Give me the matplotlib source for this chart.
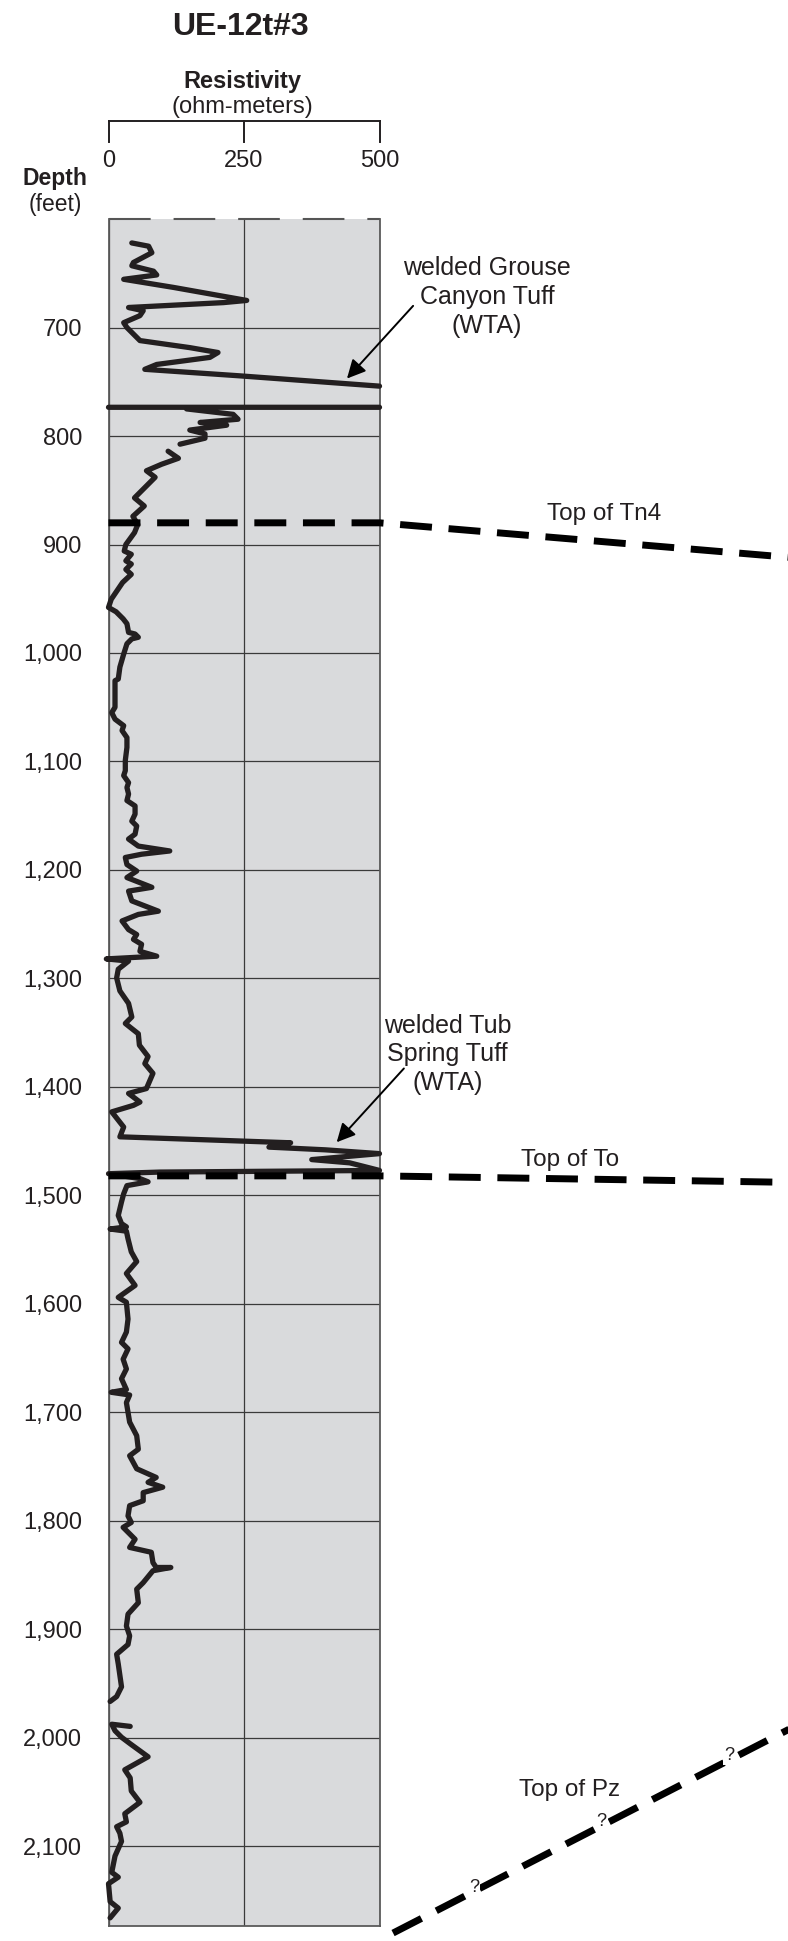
import numpy as np
import matplotlib
matplotlib.use("Agg")
import matplotlib.pyplot as plt

plt.rcParams['font.family'] = ['Liberation Sans', 'DejaVu Sans']

INK = '#231f20'
nan = np.nan

# resistivity log of UE-12t#3, depth in feet, resistivity in ohm-m (nan = break in trace)
depth = [
    622, 625, 631, 640, 643, 648, 651.5, 655.5, 663, 675, 677, 681.5, 684.5, 689, 695.5, 700,
    712, 718.5, 723, 727.5, 734, 738.5, 744.5, 754, nan,
    773.5, 773.5, nan,
    775, 780, 784.5, 787.5, 790, 794.5, 798, 802, 807.5, nan,
    814, 820.5, 826, 832, 838, 851, 857, 864.5, 874, 881.5, 889, 900, 906, 909, 915,
    918, 923, 927.5, 935, 950.5, 958, 962, 968.5, 973, 981, 982.5, 985.5, 987, 991.5, 1001,
    1013, 1024, 1025.5, 1050, 1055, 1061, 1067, 1071.5, 1078, 1087, 1099, 1108.5, 1113, 1119.5,
    1124, 1130, 1136, 1141, 1148.5, 1155, 1159.5, 1167, 1171.5, 1178, 1182.5, 1185.5, 1188.5,
    1195, 1201, 1207, 1216, 1219.5, 1228.5, 1238, 1241, 1247, 1255, 1259.5, 1264, 1268.5, 1275,
    1279.5, 1282, 1284, 1291.5, 1299.5, 1311.5,
    1323, 1335.5, 1341.5, 1351, 1361.5, 1372, 1378.5, 1387.5, 1401.5, 1406, 1414, 1417, 1423,
    1437, 1446, 1451.5, 1455.5, 1458, 1461.5, 1467, 1470, 1477, 1478.5, 1480, 1484.5, 1487.5,
    1491, 1498.5,
    1506, 1518.5, 1526, 1529, 1531, 1533, 1540, 1552, 1561, 1572, 1583, 1594, 1598.5, 1614,
    1626, 1635.5, 1641.5, 1651, 1660, 1669, 1679, 1681.5, 1684, 1691, 1709, 1721.5, 1734, 1740,
    1752, 1760, 1764.5, 1769, 1774, 1781.5, 1786, 1795.5, 1801.5, 1806, 1817, 1824.5, 1829,
    1838.5, 1843, 1843, 1846, 1857, 1863, 1875.5, 1886, 1897, 1906,
    1914, 1923, 1932, 1953, 1962, 1966.5, nan,
    1989.5, 1987.5, 1993.5, 1999.5, 2005.5, 2017.5, 2029.5, 2037, 2049, 2059.5, 2070, 2077.5,
    2082, 2088, 2095.5, 2109, 2124, 2128.5, 2134.5, 2151, 2157, 2166,
]
resistivity = [
    43, 74, 80, 46, 43, 83, 89, 28, 120, 255, 212, 37, 64, 58, 28, 34,
    58, 150, 202, 187, 89, 67, 242, 500, nan,
    0, 500, nan,
    144, 230, 239, 169, 218, 150, 178, 178, 132, nan,
    110, 129, 98, 70, 86, 60, 48, 66, 45, 54, 48, 32, 29, 42, 32,
    42, 32, 42, 26, 5, 0, 14, 27, 34, 37, 49, 55, 43, 34, 28,
    21, 18, 12, 12, 6, 12, 28, 25, 34, 34, 31, 31, 28, 37,
    34, 37, 34, 49, 49, 43, 52, 49, 37, 55, 113, 61, 31,
    34, 52, 34, 80, 37, 43, 92, 55, 25, 37, 52, 46, 61, 58,
    89, -4, 37, 18, 15, 21,
    37, 43, 31, 55, 57, 73, 67, 82, 70, 37, 58, 46, 6,
    28, 21, 336, 296, 400, 500, 375, 445, 500, 95, 0, 58, 73,
    34, 28,
    24, 18, 24, 33, 3, 33, 36, 42, 52, 33, 49, 18, 33, 36,
    33, 24, 36, 27, 33, 24, 33, 5, 39, 33, 39, 52, 55, 39,
    52, 88, 73, 100, 64, 64, 39, 36, 42, 27, 49, 39, 79,
    82, 88, 115, 82, 64, 52, 55, 36, 33, 39,
    36, 15, 18, 24, 15, 3, nan,
    40, 6, 12, 24, 40, 73, 30, 40, 42, 58, 30, 33,
    15, 21, 24, 12, 6, 18, 0, 3, 18, 3,
]

depth_ticks = list(range(700, 2200, 100))
depth_labels = [f"{d:,}" for d in depth_ticks]
res_ticks = [0, 250, 500]

# formation tops; x past 500 runs on toward the neighbouring column
tn4_x = [0, 500, 1260]
tn4_depth = [880, 880, 912]
to_x = [0, 500, 1260]
to_depth = [1482, 1482, 1488]
pz_x = [525, 1260]
pz_depth = [2180, 1991]
pz_query_x = [674, 910, 1145]

fig = plt.figure(figsize=(7.88, 19.41), dpi=100)
ax = fig.add_axes([0.1377, 0.00773, 0.3439, 0.8794])
ax.set_facecolor('#d9dadc')
ax.set_xlim(0, 500)
ax.set_ylim(2173.5, 600)

ax.set_xticks(res_ticks)
ax.set_yticks(depth_ticks)
ax.set_yticklabels(depth_labels)
ax.tick_params(axis='x', length=0, labelbottom=False)
ax.tick_params(axis='y', length=0, pad=19, labelsize=17, labelcolor=INK)
ax.grid(True, color='#3a3a3a', lw=0.9)
ax.set_axisbelow(True)
for side in ['left', 'right', 'bottom']:
    ax.spines[side].set_color('#5a5a5a')
    ax.spines[side].set_linewidth(1.3)
ax.spines['top'].set_visible(False)
ax.axhline(600, color='#555555', lw=1.5, dashes=(20, 11), clip_on=False)

# resistivity trace
ax.plot(resistivity, depth, color=INK, lw=3.8, solid_joinstyle='round',
        solid_capstyle='round', clip_on=False, zorder=3)

# formation-top correlation lines
dash = dict(color='black', lw=5.0, dashes=(4.6, 2.4), dash_capstyle='butt',
            clip_on=False, zorder=4)
ax.plot(tn4_x, tn4_depth, **dash)
ax.plot(to_x, to_depth, **dash)
ax.plot(pz_x, pz_depth, **dash)
for qx in pz_query_x:
    qd = np.interp(qx, pz_x, pz_depth)
    ax.text(qx, qd - 4, '?', fontsize=13, color=INK, ha='center', va='center',
            bbox=dict(boxstyle='square,pad=0.05', fc='white', ec='none'), zorder=5)

lbl = dict(fontsize=17.5, color=INK, ha='center', va='center', clip_on=False)
ax.text(914, 872, 'Top of Tn4', **lbl)
ax.text(851, 1467, 'Top of To', **lbl)
ax.text(851, 2048, 'Top of Pz', **lbl)

note = dict(lbl, fontsize=18, linespacing=1.25)
ax.text(698, 672, 'welded Grouse\nCanyon Tuff\n(WTA)', **note)
ax.text(626, 1370, 'welded Tub\nSpring Tuff\n(WTA)', **note)
arrow = dict(arrowstyle='-|>', color='black', lw=1.4, mutation_scale=28,
             shrinkA=0, shrinkB=0)
ax.annotate('', xy=(440, 747), xytext=(562, 680), arrowprops=arrow,
            annotation_clip=False)
ax.annotate('', xy=(421, 1451), xytext=(545, 1383), arrowprops=arrow,
            annotation_clip=False)

# resistivity scale bracket above the track
xtr = ax.get_xaxis_transform()
ax.plot([0, 500], [1.0574, 1.0574], transform=xtr, color=INK, lw=1.4, clip_on=False)
for v in res_ticks:
    ax.plot([v, v], [1.0574, 1.0453], transform=xtr, color=INK, lw=1.4, clip_on=False)
    ax.text(v, 1.0306, str(v), transform=xtr, fontsize=17, color=INK,
            ha='center', va='baseline')

fig.text(0.3046, 0.9861, 'UE-12t#3', fontsize=23, fontweight='bold', color=INK,
         ha='center', va='center')
fig.text(0.3077, 0.9547, 'Resistivity', fontsize=17, fontweight='bold', color=INK,
         ha='center', va='baseline')
fig.text(0.3077, 0.9418, '(ohm-meters)', fontsize=17, color=INK,
         ha='center', va='baseline')
fig.text(0.0702, 0.9047, 'Depth', fontsize=16.5, fontweight='bold', color=INK,
         ha='center', va='baseline')
fig.text(0.0702, 0.8913, '(feet)', fontsize=16.5, color=INK,
         ha='center', va='baseline')

fig.savefig('out.png', dpi=100, facecolor='white')
